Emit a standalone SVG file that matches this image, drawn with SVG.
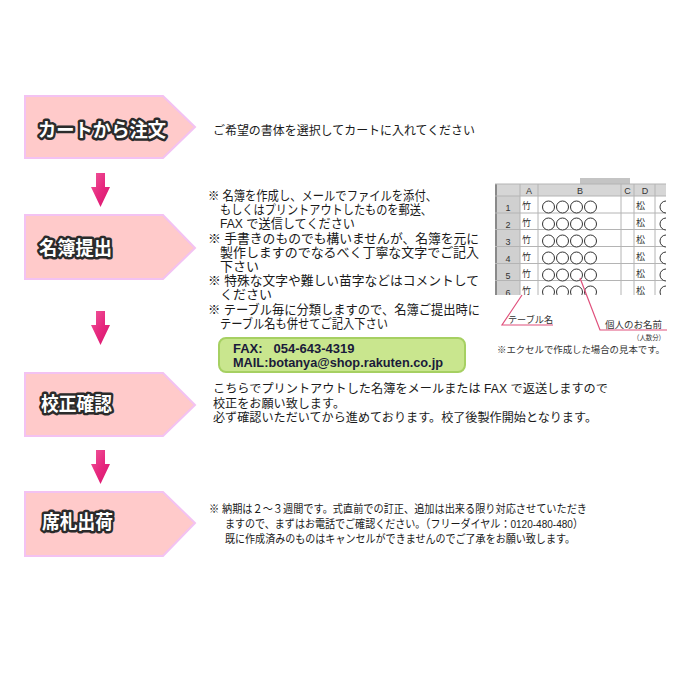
<svg xmlns="http://www.w3.org/2000/svg" width="700" height="700" viewBox="0 0 700 700">
<defs>
<style>
.step{fill:#ffcaca;stroke:#f3c2f2;stroke-width:2;}
.lbl{font-family:"Noto Sans CJK JP",sans-serif;font-weight:bold;font-size:19px;fill:#fff;stroke:#2b2b2b;stroke-width:5;stroke-linejoin:round;paint-order:stroke;}
.t{font-family:"Liberation Sans","Noto Sans CJK JP",sans-serif;fill:#1a1a1a;}
.t13{font-size:13px;}
.t12{font-size:12px;}
.t11{font-size:11.5px;}
.fax{font-family:"Liberation Sans","DejaVu Sans",sans-serif;font-weight:bold;font-size:13px;fill:#1a1a3a;}
.sh{font-family:"Liberation Sans","Noto Sans CJK JP",sans-serif;fill:#333;}
.grid{stroke:#b4b4b4;stroke-width:1;fill:none;}
.circ{fill:#fff;stroke:#333;stroke-width:1;}
.lead{fill:none;stroke:#e0507c;stroke-width:1.2;}
.arr{fill:url(#ag);}
</style>
<linearGradient id="ag" x1="0" y1="0" x2="1" y2="1">
<stop offset="0" stop-color="#f05a9c"/>
<stop offset="0.5" stop-color="#e7297f"/>
<stop offset="1" stop-color="#d8146c"/>
</linearGradient>
<path id="arrow" d="M-4.5,0 H4.5 V14 H9.5 L0,34 L-9.5,14 H-4.5 Z"/>
<clipPath id="sheetclip"><rect x="494" y="177" width="172" height="118"/></clipPath>
</defs>

<rect width="700" height="700" fill="#fff"/>

<!-- connectors -->
<g id="connectors">
<use href="#arrow" class="arr" x="100.5" y="173"/>
<use href="#arrow" class="arr" x="100.5" y="311"/>
<use href="#arrow" class="arr" x="100.5" y="450"/>
</g>

<!-- step 1 -->
<g id="step1">
<polygon class="step" points="25,96 163,96 195,127 163,158 25,158"/>
<text class="lbl" x="38" y="137" textLength="128" lengthAdjust="spacingAndGlyphs">カートから注文</text>
<text class="t t12" x="213" y="135" textLength="262" lengthAdjust="spacingAndGlyphs">ご希望の書体を選択してカートに入れてください</text>
</g>

<!-- step 2 -->
<g id="step2">
<polygon class="step" points="25,215 163,215 195,248 163,279 25,279"/>
<text class="lbl" x="39" y="255" textLength="73" lengthAdjust="spacingAndGlyphs">名簿提出</text>
<g class="t t13">
<text x="208" y="200" textLength="229" lengthAdjust="spacingAndGlyphs">※ 名簿を作成し、メールでファイルを添付、</text>
<text x="220" y="214" textLength="212" lengthAdjust="spacingAndGlyphs">もしくはプリントアウトしたものを郵送、</text>
<text x="220" y="228" textLength="135" lengthAdjust="spacingAndGlyphs">FAX で送信してください</text>
<text x="208" y="242.5" textLength="271" lengthAdjust="spacingAndGlyphs">※ 手書きのものでも構いませんが、名簿を元に</text>
<text x="220" y="257" textLength="259" lengthAdjust="spacingAndGlyphs">製作しますのでなるべく丁寧な文字でご記入</text>
<text x="220" y="271">下さい</text>
<text x="208" y="285" textLength="271" lengthAdjust="spacingAndGlyphs">※ 特殊な文字や難しい苗字などはコメントして</text>
<text x="220" y="299">ください</text>
<text x="208" y="313.5" textLength="272" lengthAdjust="spacingAndGlyphs">※ テーブル毎に分類しますので、名簿ご提出時に</text>
<text x="220" y="328" textLength="168" lengthAdjust="spacingAndGlyphs">テーブル名も併せてご記入下さい</text>
</g>
</g>

<!-- contact box -->
<g id="contact">
<rect x="219" y="338" width="246" height="34" rx="7" fill="#c9e68e" stroke="#a6d062" stroke-width="2"/>
<text class="fax" x="233" y="352.5" xml:space="preserve">FAX:   054-643-4319</text>
<text class="fax" x="233" y="367" textLength="210" lengthAdjust="spacingAndGlyphs">MAIL:botanya@shop.rakuten.co.jp</text>
</g>

<!-- spreadsheet sample -->
<g id="sample">
<g clip-path="url(#sheetclip)">
<rect x="580" y="178" width="50" height="6" fill="#c4c4c4"/>
<rect x="495" y="184" width="171" height="12" fill="#d6d6d6"/>
<rect x="495" y="196" width="25" height="101" fill="#d0d0d0"/>
<rect x="495" y="184" width="2" height="113" fill="#8a8a8a"/>
<g class="grid">
<line x1="495" y1="184" x2="666" y2="184"/>
<line x1="495" y1="196" x2="666" y2="196"/>
<line x1="495" y1="213" x2="666" y2="213"/>
<line x1="495" y1="229.5" x2="666" y2="229.5"/>
<line x1="495" y1="246.5" x2="666" y2="246.5"/>
<line x1="495" y1="263.5" x2="666" y2="263.5"/>
<line x1="495" y1="280.5" x2="666" y2="280.5"/>
<line x1="520" y1="184" x2="520" y2="297"/>
<line x1="538" y1="184" x2="538" y2="297"/>
<line x1="621" y1="184" x2="621" y2="297"/>
<line x1="634" y1="184" x2="634" y2="297"/>
<line x1="655" y1="184" x2="655" y2="297"/>
</g>
<g class="sh" font-size="9" text-anchor="middle">
<text x="529" y="194">A</text>
<text x="580" y="194">B</text>
<text x="627.5" y="194">C</text>
<text x="645" y="194">D</text>
<text x="508" y="211">1</text>
<text x="508" y="228">2</text>
<text x="508" y="245">3</text>
<text x="508" y="262">4</text>
<text x="508" y="279">5</text>
<text x="508" y="296">6</text>
</g>
<g class="sh" font-size="9" fill="#111">
<text x="522" y="209">竹</text>
<text x="522" y="226">竹</text>
<text x="522" y="243">竹</text>
<text x="522" y="260">竹</text>
<text x="522" y="277">竹</text>
<text x="522" y="294">竹</text>
<text x="636" y="209">松</text>
<text x="636" y="226">松</text>
<text x="636" y="243">松</text>
<text x="636" y="260">松</text>
<text x="636" y="277">松</text>
<text x="636" y="294">松</text>
</g>
<g class="circ">
<circle cx="548.5" cy="207" r="6"/><circle cx="562.5" cy="207" r="6"/><circle cx="576.5" cy="207" r="6"/><circle cx="590.5" cy="207" r="6"/>
<circle cx="548.5" cy="224" r="6"/><circle cx="562.5" cy="224" r="6"/><circle cx="576.5" cy="224" r="6"/><circle cx="590.5" cy="224" r="6"/>
<circle cx="548.5" cy="241" r="6"/><circle cx="562.5" cy="241" r="6"/><circle cx="576.5" cy="241" r="6"/><circle cx="590.5" cy="241" r="6"/>
<circle cx="548.5" cy="258" r="6"/><circle cx="562.5" cy="258" r="6"/><circle cx="576.5" cy="258" r="6"/><circle cx="590.5" cy="258" r="6"/>
<circle cx="548.5" cy="275" r="6"/><circle cx="562.5" cy="275" r="6"/><circle cx="576.5" cy="275" r="6"/><circle cx="590.5" cy="275" r="6"/>
<circle cx="548.5" cy="292" r="6"/><circle cx="562.5" cy="292" r="6"/><circle cx="576.5" cy="292" r="6"/><circle cx="590.5" cy="292" r="6"/>
<circle cx="666" cy="207" r="6"/><circle cx="666" cy="224" r="6"/><circle cx="666" cy="241" r="6"/><circle cx="666" cy="258" r="6"/><circle cx="666" cy="275" r="6"/><circle cx="666" cy="292" r="6"/>
</g>
</g>
<polyline class="lead" points="522,295 502,325 553,325"/>
<polyline class="lead" points="580,278 600,330 667,330"/>
<text class="sh" font-size="9.5" x="508" y="322.5" textLength="45" lengthAdjust="spacingAndGlyphs" fill="#222">テーブル名</text>
<text class="sh" font-size="9.5" x="605" y="328" textLength="57" lengthAdjust="spacingAndGlyphs" fill="#222">個人のお名前</text>
<text class="sh" font-size="7" x="633" y="340" textLength="32" lengthAdjust="spacingAndGlyphs" fill="#222">（人数分）</text>
<text class="sh" font-size="9.5" x="497" y="352.5" textLength="168" lengthAdjust="spacingAndGlyphs" fill="#111">※エクセルで作成した場合の見本です。</text>
</g>

<!-- step 3 -->
<g id="step3">
<polygon class="step" points="25,373 163,373 195,405 163,436 25,436"/>
<text class="lbl" x="41" y="411" textLength="71" lengthAdjust="spacingAndGlyphs">校正確認</text>
<g class="t t12">
<text x="213" y="393" textLength="395" lengthAdjust="spacingAndGlyphs">こちらでプリントアウトした名簿をメールまたは FAX で返送しますので</text>
<text x="213" y="407.5" textLength="132" lengthAdjust="spacingAndGlyphs">校正をお願い致します。</text>
<text x="213" y="422" textLength="384" lengthAdjust="spacingAndGlyphs">必ず確認いただいてから進めております。校了後製作開始となります。</text>
</g>
</g>

<!-- step 4 -->
<g id="step4">
<polygon class="step" points="25,492 163,492 195,523 163,556 25,556"/>
<text class="lbl" x="42" y="529" textLength="71" lengthAdjust="spacingAndGlyphs">席札出荷</text>
<g class="t t11">
<text x="209" y="512.5" textLength="378" lengthAdjust="spacingAndGlyphs">※ 納期は２～３週間です。式直前での訂正、追加は出来る限り対応させていただき</text>
<text x="225" y="527.5" textLength="358" lengthAdjust="spacingAndGlyphs">ますので、まずはお電話でご確認ください。（フリーダイヤル：0120-480-480）</text>
<text x="225" y="542.5" textLength="350" lengthAdjust="spacingAndGlyphs">既に作成済みのものはキャンセルができませんのでご了承をお願い致します。</text>
</g>
</g>
</svg>
